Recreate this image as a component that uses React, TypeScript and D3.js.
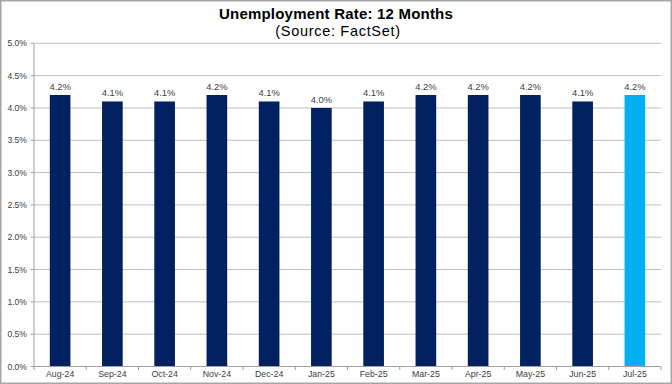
import React from "react";
import * as d3 from "d3";

const months = ["Aug-24","Sep-24","Oct-24","Nov-24","Dec-24","Jan-25","Feb-25","Mar-25","Apr-25","May-25","Jun-25","Jul-25"];
const rates = [4.2, 4.1, 4.1, 4.2, 4.1, 4.0, 4.1, 4.2, 4.2, 4.2, 4.1, 4.2];
const yTicks = [0, 0.5, 1.0, 1.5, 2.0, 2.5, 3.0, 3.5, 4.0, 4.5, 5.0];
const titleText = "Unemployment Rate: 12 Months";
const subtitleText = "(Source: FactSet)";

const W = 672;
const H = 384;
const left = 34;
const right = 661;
const top = 43.3;
const bottom = 366.5;
const NAVY = "#002060";
const LIGHT = "#00B0F0";
const FONT = "'Liberation Sans', Arial, sans-serif";

export default function App() {
  const x = d3.scaleBand<string>().domain(months).range([left, right]).paddingInner(0.605).paddingOuter(0.3025);
  const band = d3.scaleBand<string>().domain(months).range([left, right]);
  const y = d3.scaleLinear().domain([0, 5]).range([bottom, top]);
  const boundaries = months.map((m) => band(m) as number).concat([right]);

  return (
    <svg width={W} height={H} style={{ position: "fixed", left: 0, top: 0, background: "#fff" }} fontFamily={FONT}>
      <rect x={0.75} y={0.75} width={W - 1.5} height={H - 1.5} fill="#fff" stroke="#A6A6A6" strokeWidth={1.5} />
      <text x={336} y={19} textAnchor="middle" fontSize={15} fontWeight="bold" fill="#000" letterSpacing={0.2}>{titleText}</text>
      <text x={338} y={35.5} textAnchor="middle" fontSize={14.5} fill="#000" letterSpacing={0.7}>{subtitleText}</text>
      {yTicks.map((t) => (
        <g key={t}>
          {t > 0 && <line x1={left} x2={right} y1={y(t)} y2={y(t)} stroke="#BFBFBF" strokeWidth={1} />}
          <line x1={left - 3.5} x2={left} y1={y(t)} y2={y(t)} stroke="#A0A0A0" strokeWidth={1} />
          <text x={27} y={y(t)} dy="0.35em" textAnchor="end" fontSize={8.6} fill="#404040">{d3.format(".1f")(t) + "%"}</text>
        </g>
      ))}
      {months.map((m, i) => (
        <g key={m}>
          <rect x={x(m)} y={y(rates[i])} width={x.bandwidth()} height={bottom - y(rates[i])} fill={i === months.length - 1 ? LIGHT : NAVY} />
          <text x={(x(m) as number) + x.bandwidth() / 2} y={y(rates[i]) - 5} textAnchor="middle" fontSize={9.4} fill="#404040">{rates[i].toFixed(1) + "%"}</text>
          <text x={(band(m) as number) + band.bandwidth() / 2} y={377} textAnchor="middle" fontSize={8.8} fill="#404040">{m}</text>
        </g>
      ))}
      {boundaries.map((b, i) => (
        <line key={i} x1={b} x2={b} y1={bottom} y2={bottom + 3.5} stroke="#A0A0A0" strokeWidth={1} />
      ))}
      <line x1={left} x2={right} y1={bottom} y2={bottom} stroke="#A0A0A0" strokeWidth={1} />
      <line x1={left} x2={left} y1={top} y2={bottom} stroke="#A0A0A0" strokeWidth={1} />
    </svg>
  );
}
